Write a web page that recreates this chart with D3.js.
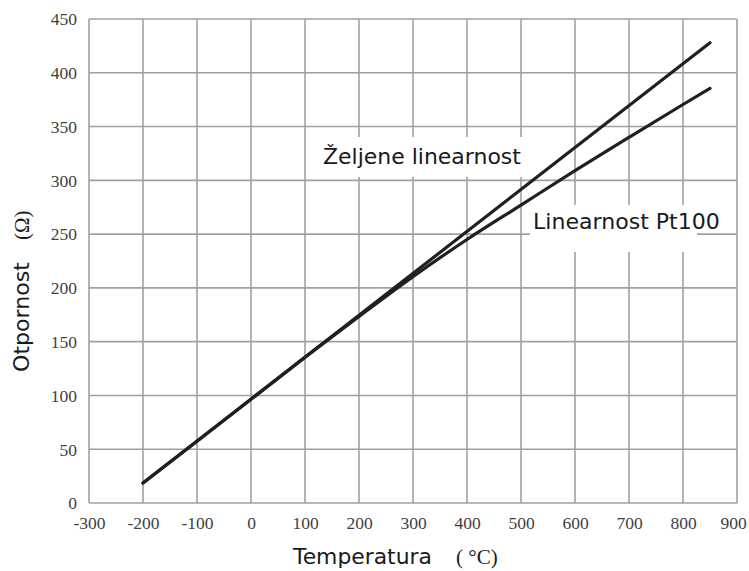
<!DOCTYPE html>
<html>
<head>
<meta charset="utf-8">
<script src="https://cdn.jsdelivr.net/npm/d3@7/dist/d3.min.js"></script>
<style>
  html, body { margin: 0; padding: 0; background: #fff; }
  svg { display: block; }
</style>
</head>
<body>
<script>
// ---- data ----
const tempTicks = [-300, -200, -100, 0, 100, 200, 300, 400, 500, 600, 700, 800, 900];
const resTicks = [0, 50, 100, 150, 200, 250, 300, 350, 400, 450];

const desiredTemp = [-200, 850];
const desiredRes = [18.5, 428];

const pt100Temp = [-200, -100, 0, 100, 200, 300, 400, 500, 600, 700, 800, 850];
const pt100Res = [18.5, 57.5, 96.5, 135.5, 173.5, 210.5, 245, 277, 309, 340, 370.5, 385.5];

const labelDesired = "Željene linearnost";
const labelPt100 = "Linearnost Pt100";
const xTitle = "Temperatura";
const xUnit = "( °C)";
const yTitle = "Otpornost";
const yUnit = "(Ω)";

// ---- layout ----
const W = 749, H = 571;
const mLeft = 89, mRight = 737, mTop = 19, mBottom = 503;

const svg = d3.select("body").append("svg").attr("width", W).attr("height", H);

const x = d3.scaleLinear().domain([-300, 900]).range([mLeft, mRight]);
const y = d3.scaleLinear().domain([0, 450]).range([mBottom, mTop]);

const gridColor = "#a0a0a0";

// grid
const grid = svg.append("g");
grid.selectAll("line.v").data(tempTicks).join("line")
  .attr("x1", d => x(d)).attr("x2", d => x(d))
  .attr("y1", mTop).attr("y2", mBottom)
  .attr("stroke", gridColor).attr("stroke-width", 1.6);
grid.selectAll("line.h").data(resTicks).join("line")
  .attr("y1", d => y(d)).attr("y2", d => y(d))
  .attr("x1", mLeft).attr("x2", mRight)
  .attr("stroke", gridColor).attr("stroke-width", 1.6);

// axes tick labels (no tick marks, no domain line)
const serif = "'Liberation Serif', 'Times New Roman', serif";
const xAxis = d3.axisBottom(x).tickValues(tempTicks).tickSize(0).tickPadding(0).tickFormat(d => String(d));
const gx = svg.append("g").attr("transform", `translate(0,${mBottom})`).call(xAxis);
gx.select(".domain").remove();
gx.selectAll("text")
  .attr("dy", null).attr("y", 26)
  .attr("font-family", serif)
  .attr("font-size", 17.5).attr("fill", "#404040")
  .attr("dx", d => d === 900 ? -4 : 0);

const yAxis = d3.axisLeft(y).tickValues(resTicks).tickSize(0).tickPadding(0).tickFormat(d => String(d));
const gy = svg.append("g").attr("transform", `translate(${mLeft},0)`).call(yAxis);
gy.select(".domain").remove();
gy.selectAll("text")
  .attr("x", -12).attr("dy", "0.33em")
  .attr("font-family", serif)
  .attr("font-size", 17.5).attr("fill", "#404040");

// white boxes behind labels
svg.append("rect").attr("x", 310).attr("y", 137).attr("width", 217).attr("height", 40).attr("fill", "#fff");
svg.append("rect").attr("x", 530).attr("y", 205).attr("width", 167).attr("height", 47).attr("fill", "#fff");

// lines
const lineGen = d3.line().x(d => x(d[0])).y(d => y(d[1])).curve(d3.curveMonotoneX);
const desired = desiredTemp.map((t, i) => [t, desiredRes[i]]);
const pt100 = pt100Temp.map((t, i) => [t, pt100Res[i]]);

svg.append("path").datum(desired).attr("d", lineGen)
  .attr("fill", "none").attr("stroke", "#231f20").attr("stroke-width", 3.2).attr("stroke-linecap", "round");
svg.append("path").datum(pt100).attr("d", lineGen)
  .attr("fill", "none").attr("stroke", "#231f20").attr("stroke-width", 3.2).attr("stroke-linecap", "round");

// helper to fit text to a width
function fit(sel, w) {
  const len = sel.node().getComputedTextLength();
  const fs = parseFloat(sel.attr("font-size"));
  sel.attr("font-size", fs * w / len);
  return sel;
}
const sans = "'DejaVu Sans', Verdana, sans-serif";

// series labels
fit(svg.append("text").attr("x", 323).attr("y", 164).attr("font-family", sans)
  .attr("font-size", 20).attr("fill", "#1a1a1a").text(labelDesired), 198);
fit(svg.append("text").attr("x", 533).attr("y", 229).attr("font-family", sans)
  .attr("font-size", 20).attr("fill", "#1a1a1a").text(labelPt100), 187);

// x title
fit(svg.append("text").attr("x", 293).attr("y", 564).attr("font-family", sans)
  .attr("font-size", 20).attr("fill", "#1a1a1a").text(xTitle), 139);
svg.append("text").attr("x", 456).attr("y", 564).attr("font-family", serif)
  .attr("font-size", 21).attr("fill", "#1a1a1a").attr("xml:space", "preserve").text(xUnit);

// y title
fit(svg.append("text").attr("transform", "translate(29,372) rotate(-90)").attr("font-family", sans)
  .attr("font-size", 20).attr("fill", "#1a1a1a").text(yTitle), 110);
svg.append("text").attr("transform", "translate(29,240) rotate(-90)").attr("font-family", serif)
  .attr("font-size", 21).attr("fill", "#1a1a1a").text(yUnit);
</script>
</body>
</html>
